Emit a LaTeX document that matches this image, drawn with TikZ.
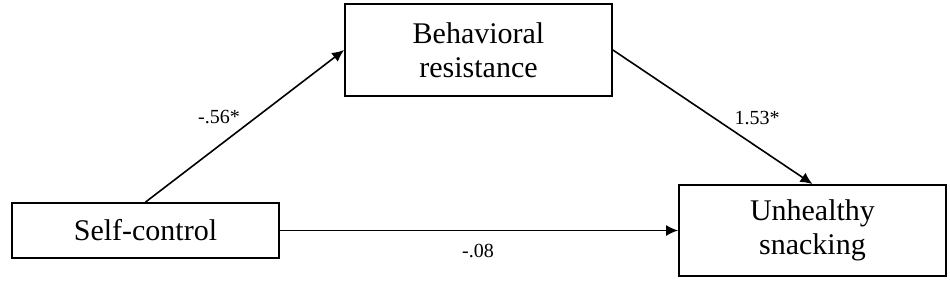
\documentclass[tikz,border=0pt]{standalone}
\usepackage{fontspec}
\setmainfont{Liberation Serif}
\usetikzlibrary{arrows.meta,positioning}

\begin{document}
\begin{tikzpicture}[
  x=0.5pt,y=0.5pt,
  var/.style={draw=black,line width=0.9pt,align=center,inner sep=2pt,
    minimum width=133.5pt,font=\fontsize{15}{17}\selectfont},
  path/.style={-{Latex[length=6pt,width=5.5pt]},draw=black,line width=0.8pt},
  coef/.style={font=\fontsize{10}{12}\selectfont,inner sep=1pt}
]
  \useasboundingbox (0,0) rectangle (950,280);

  \node[var,minimum height=46pt] (resist) at (478.5,230)
    {Behavioral\\resistance};
  \node[var,minimum height=27.5pt] (selfctrl) at (145.5,49.5)
    {Self-control};
  \node[var,minimum height=45.5pt] (snack) at (812.5,49.5)
    {Unhealthy\\snacking};

  \draw[path] (selfctrl.north) -- (resist.west);
  \draw[path] (resist.east) -- (snack.north);
  \draw[path] (selfctrl.east) -- (snack.west);

  \node[coef] (a) at (219,163) {-.56*};
  \node[coef] (b) at (757,162) {1.53*};
  \node[coef] (c) at (478,29) {-.08};
\end{tikzpicture}
\end{document}
